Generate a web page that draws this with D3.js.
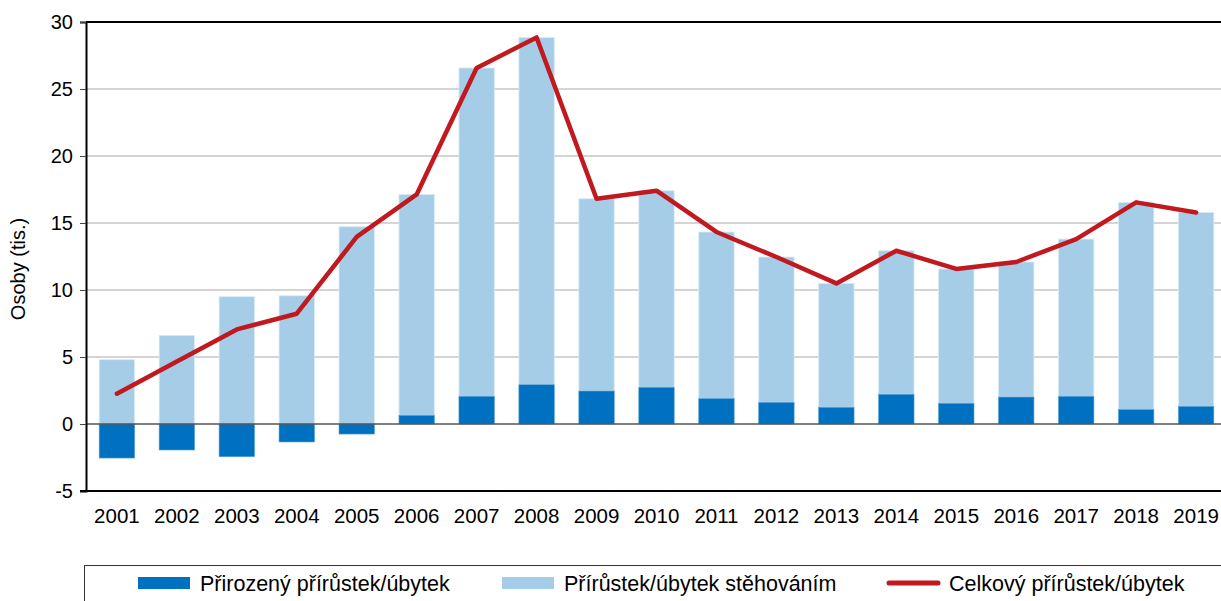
<!DOCTYPE html>
<html>
<head>
<meta charset="utf-8">
<script src="https://cdn.jsdelivr.net/npm/d3@7"></script>
<style>
  body { margin: 0; background: #fff; }
  text { font-family: "Liberation Sans", Arial, sans-serif; fill: #000; }
</style>
</head>
<body>
<script>
var years = ["2001","2002","2003","2004","2005","2006","2007","2008","2009","2010",
             "2011","2012","2013","2014","2015","2016","2017","2018","2019"];
// přirozený přírůstek/úbytek (tis.)
var natural = [-2.54,-1.94,-2.44,-1.34,-0.75,0.64,2.06,2.93,2.46,2.73,
               1.89,1.61,1.24,2.21,1.54,2.01,2.06,1.07,1.31];
// přírůstek/úbytek stěhováním (tis.)
var migration = [4.80,6.61,9.50,9.57,14.72,16.49,24.51,25.92,14.35,14.68,
                 12.44,10.85,9.25,10.72,10.03,10.08,11.74,15.47,14.48];
var yTicks = [-5,0,5,10,15,20,25,30];
var legendLabels = ["Přirozený přírůstek/úbytek", "Přírůstek/úbytek stěhováním", "Celkový přírůstek/úbytek"];

var W = 1221, H = 601;
var margin = {left: 86, top: 22, right: -6, bottom: 110};

var svg = d3.select("body").append("svg")
    .attr("width", W)
    .attr("height", H);

var x = d3.scaleBand()
    .domain(years)
    .range([margin.left, W - margin.right])
    .paddingInner(0.41)
    .paddingOuter(0.22);

var y = d3.scaleLinear()
    .domain([-5, 30])
    .range([H - margin.bottom, margin.top]);

// mřížka
svg.append("g")
    .selectAll("line")
    .data(yTicks.filter(function(d) { return d > 0 && d < 30; }))
    .enter().append("line")
    .attr("x1", margin.left).attr("x2", W)
    .attr("y1", function(d) { return y(d); })
    .attr("y2", function(d) { return y(d); })
    .attr("stroke", "#c6c6c6")
    .attr("stroke-width", 1.3);

// horní okraj
svg.append("line")
    .attr("x1", margin.left).attr("x2", W)
    .attr("y1", y(30)).attr("y2", y(30))
    .attr("stroke", "#000").attr("stroke-width", 2);

var total = years.map(function(d, i) { return natural[i] + migration[i]; });

// stěhování
svg.append("g")
    .selectAll("rect")
    .data(years)
    .enter().append("rect")
    .attr("x", function(d) { return x(d); })
    .attr("width", x.bandwidth())
    .attr("y", function(d, i) {
        var base = natural[i] > 0 ? natural[i] : 0;
        return y(base + migration[i]);
    })
    .attr("height", function(d, i) { return y(0) - y(migration[i]); })
    .attr("fill", "#a6cde7")
    .attr("stroke", "#d9ebf6")
    .attr("stroke-width", 0.8);

// přirozený
svg.append("g")
    .selectAll("rect")
    .data(years)
    .enter().append("rect")
    .attr("x", function(d) { return x(d); })
    .attr("width", x.bandwidth())
    .attr("y", function(d, i) { return y(Math.max(0, natural[i])); })
    .attr("height", function(d, i) { return Math.abs(y(natural[i]) - y(0)); })
    .attr("fill", "#0070c0")
    .attr("stroke", "#4d9bd3")
    .attr("stroke-width", 0.6);

// nulová čára
svg.append("line")
    .attr("x1", margin.left).attr("x2", W)
    .attr("y1", y(0)).attr("y2", y(0))
    .attr("stroke", "#555").attr("stroke-width", 1.3);

// celkový
var line = d3.line()
    .x(function(d, i) { return x(years[i]) + x.bandwidth() / 2; })
    .y(function(d) { return y(d); });

svg.append("path")
    .datum(total)
    .attr("d", line)
    .attr("fill", "none")
    .attr("stroke", "#c0191f")
    .attr("stroke-width", 4.5)
    .attr("stroke-linejoin", "round")
    .attr("stroke-linecap", "round");

// osa y
var yAxis = svg.append("g")
    .attr("transform", "translate(" + margin.left + ",0)")
    .call(d3.axisLeft(y).tickValues(yTicks).tickSize(6).tickPadding(7)
        .tickFormat(function(d) { return String(d); }));
yAxis.select(".domain").attr("stroke", "#000").attr("stroke-width", 2);
yAxis.selectAll(".tick line").attr("stroke", "#444");
yAxis.selectAll("text").style("font-size", "20px");

// osa x
var xAxis = svg.append("g")
    .attr("transform", "translate(0," + y(-5) + ")")
    .call(d3.axisBottom(x).tickSize(0).tickPadding(17));
xAxis.select(".domain").remove();
svg.append("line")
    .attr("x1", margin.left - 6).attr("x2", W)
    .attr("y1", y(-5)).attr("y2", y(-5))
    .attr("stroke", "#000").attr("stroke-width", 2);
xAxis.selectAll("text").style("font-size", "20.5px");

svg.append("text")
    .attr("transform", "translate(25,269) rotate(-90)")
    .attr("text-anchor", "middle")
    .style("font-size", "20px")
    .text("Osoby (tis.)");

// legenda
svg.append("rect")
    .attr("x", 84.5).attr("y", 565.5)
    .attr("width", 1150).attr("height", 60)
    .attr("fill", "#fff")
    .attr("stroke", "#333").attr("stroke-width", 1);

var legendX = [138, 502, 887];
var lg = svg.append("g").selectAll("g")
    .data(legendLabels)
    .enter().append("g")
    .attr("transform", function(d, i) { return "translate(" + legendX[i] + ",583)"; });

lg.filter(function(d, i) { return i < 2; })
    .append("rect")
    .attr("x", 0).attr("y", -6)
    .attr("width", 52).attr("height", 12)
    .attr("fill", function(d, i) { return i === 0 ? "#0070c0" : "#a6cde7"; });

lg.filter(function(d, i) { return i === 2; })
    .append("line")
    .attr("x1", 2).attr("x2", 51)
    .attr("y1", 0).attr("y2", 0)
    .attr("stroke", "#c0191f")
    .attr("stroke-width", 5)
    .attr("stroke-linecap", "round");

lg.append("text")
    .attr("x", 62).attr("y", 8)
    .style("font-size", "21.5px")
    .text(function(d) { return d; });
</script>
</body>
</html>
